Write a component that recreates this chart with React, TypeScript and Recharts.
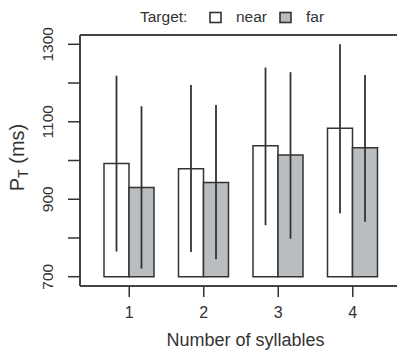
import { BarChart, Bar, XAxis, YAxis, Legend, ReferenceLine } from 'recharts'

const syllables = ['1', '2', '3', '4']
const nearMean = [992, 979, 1038, 1083]
const farMean = [930, 943, 1014, 1033]
const nearLow = [765, 764, 833, 864]
const nearHigh = [1219, 1195, 1240, 1300]
const farLow = [721, 745, 798, 842]
const farHigh = [1140, 1143, 1228, 1221]
const yTicks = [700, 800, 900, 1000, 1100, 1200, 1300]
const yLabelled = [700, 900, 1100, 1300]
const yDomain = [676, 1324]
const baseValue = 700

const FONT = '"Liberation Sans", Arial, sans-serif'
const INK = '#333'
const FAR_FILL = '#b9bdc0'

const data = syllables.map((s, i) => ({
  syll: s,
  near: [baseValue, nearMean[i]],
  far: [baseValue, farMean[i]],
  nearErr: [nearLow[i], nearHigh[i]],
  farErr: [farLow[i], farHigh[i]],
}))

// vertical whisker drawn in the middle of the (invisible) slot bar
function Whisker(props: any) {
  const { x, y, width, height } = props
  const cx = x + width / 2
  return <line x1={cx} x2={cx} y1={y} y2={y + height} stroke={INK} strokeWidth={1.8} />
}

function YTick(props: any) {
  const { x, y, payload } = props
  if (!yLabelled.includes(payload.value)) return null
  const bx = x - 13
  return (
    <text
      x={bx}
      y={y}
      transform={`rotate(-90 ${bx} ${y})`}
      textAnchor="middle"
      fontSize={15.5}
      fontFamily={FONT}
      fill={INK}
    >
      {payload.value}
    </text>
  )
}

function YTitle(props: any) {
  const { viewBox } = props
  const cx = 24
  const cy = viewBox.y + viewBox.height / 2 - 3
  return (
    <text
      x={cx}
      y={cy}
      transform={`rotate(-90 ${cx} ${cy})`}
      textAnchor="middle"
      fontSize={20}
      fontFamily={FONT}
      fill={INK}
    >
      <tspan>P</tspan>
      <tspan dy={4} fontSize={14}>T</tspan>
      <tspan dy={-4}> (ms)</tspan>
    </text>
  )
}

function XTitle(props: any) {
  const { viewBox } = props
  return (
    <text
      x={viewBox.x + viewBox.width / 2 + 5}
      y={viewBox.y + 60}
      textAnchor="middle"
      fontSize={18}
      fontFamily={FONT}
      fill={INK}
    >
      Number of syllables
    </text>
  )
}

function TargetLegend() {
  return (
    <svg width={397} height={35} style={{ display: 'block' }}>
      <g fontFamily={FONT} fontSize={15.5} fill={INK}>
        <text x={140} y={21.5}>Target:</text>
        <rect x={210} y={12.5} width={11} height={10} fill="#fff" stroke={INK} strokeWidth={1.6} />
        <text x={236} y={21.5}>near</text>
        <rect x={280} y={12.5} width={11} height={10} fill={FAR_FILL} stroke={INK} strokeWidth={1.6} />
        <text x={306} y={21.5}>far</text>
      </g>
    </svg>
  )
}

export default function App() {
  return (
    <div style={{ position: 'fixed', left: 0, top: 0, width: 397, height: 352, overflow: 'hidden', background: '#fff' }}>
      <BarChart width={403} height={352} data={data} barGap={0} margin={{ top: 0, right: 2, bottom: 0, left: 0 }}>
        <Legend verticalAlign="top" align="left" wrapperStyle={{ top: 0, left: 0 }} content={<TargetLegend />} />
        <XAxis
          xAxisId="main"
          dataKey="syll"
          padding={{ left: 12, right: 11 }}
          height={66}
          tickSize={11}
          tickMargin={10}
          axisLine={{ stroke: '#444', strokeWidth: 2 }}
          tickLine={{ stroke: INK, strokeWidth: 1.5 }}
          tick={{ fontSize: 16, fontFamily: FONT, fill: INK }}
          label={<XTitle />}
        />
        <XAxis xAxisId="err" dataKey="syll" padding={{ left: 12, right: 11 }} height={0} hide />
        <YAxis
          width={80}
          domain={yDomain}
          allowDataOverflow
          ticks={yTicks}
          interval={0}
          tickSize={12}
          axisLine={{ stroke: '#444', strokeWidth: 2 }}
          tickLine={{ stroke: INK, strokeWidth: 1.5 }}
          tick={<YTick />}
          label={<YTitle />}
        />
        <ReferenceLine xAxisId="main" y={yDomain[1]} stroke="#444" strokeWidth={2} />
        <ReferenceLine xAxisId="main" y={yDomain[0]} stroke="#444" strokeWidth={2} />
        <Bar xAxisId="main" dataKey="near" barSize={25} fill="#fff" stroke={INK} strokeWidth={1.5} isAnimationActive={false} />
        <Bar xAxisId="main" dataKey="far" barSize={25} fill={FAR_FILL} stroke={INK} strokeWidth={1.5} isAnimationActive={false} />
        <Bar xAxisId="err" dataKey="nearErr" barSize={25} shape={<Whisker />} isAnimationActive={false} />
        <Bar xAxisId="err" dataKey="farErr" barSize={25} shape={<Whisker />} isAnimationActive={false} />
      </BarChart>
    </div>
  )
}
